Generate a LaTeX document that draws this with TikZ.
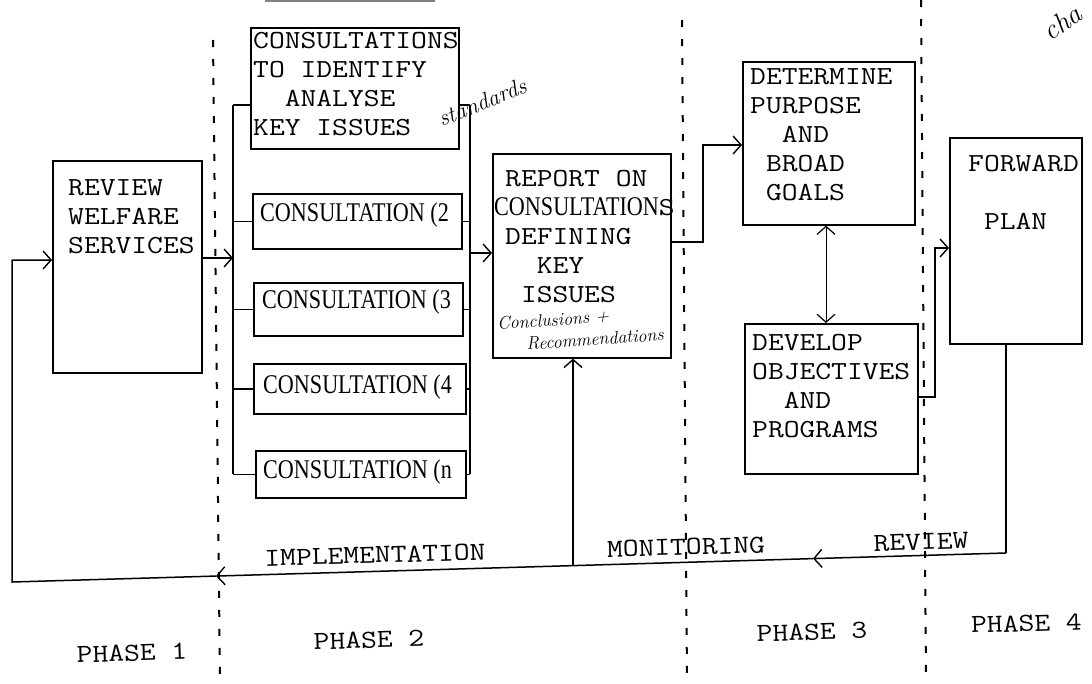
\documentclass[tikz,border=0pt]{standalone}
\usepackage{fontspec}
\usetikzlibrary{arrows.meta}
\newfontfamily\tw{Latin Modern Mono}[FakeStretch=1.18]
\newfontfamily\cons{Liberation Serif}[FakeStretch=0.82]
\newcommand\twf{\tw\fontsize{26}{29}\selectfont}
\newcommand\consf{\cons\fontsize{27}{29}\selectfont}
\newcommand\handf{\rmfamily\itshape\fontsize{18}{20}\selectfont}
\begin{document}
\begin{tikzpicture}[x=1pt,y=-1pt,
  box/.style={draw,line width=1.6pt,anchor=north west,inner sep=0pt},
  txt/.style={anchor=north west,inner sep=0pt,align=left,font=\twf},
  ctxt/.style={anchor=west,inner sep=0pt,font=\consf},
  lbl/.style={inner sep=0pt,font=\twf,rotate=1.7},
  hand/.style={inner sep=0pt,font=\handf},
  conn/.style={line width=1.5pt},
  arr/.style={line width=1.5pt,-{Straight Barb[length=8pt,width=18pt,line width=1.4pt]}},
  darr/.style={line width=1pt,{Straight Barb[length=8pt,width=18pt,line width=1.2pt]}-{Straight Barb[length=8pt,width=18pt,line width=1.2pt]}},
  phase/.style={line width=2pt,dash pattern=on 7pt off 12pt}]
\useasboundingbox (0,0) rectangle (1092,683);
\fill[white] (0,0) rectangle (1092,683);

% phase dividers
\draw[phase] (213,40) -- (220,683);
\draw[phase] (682,20) -- (687,683);
\draw[phase] (921,0) -- (926,683);
\draw[gray,line width=2pt] (265,1) -- (435,1);

% boxes
\node[box,minimum width=149pt,minimum height=212pt] (review) at (52,160) {};
\node[box,minimum width=208pt,minimum height=121pt] (c1) at (250,27) {};
\node[box,minimum width=209pt,minimum height=55pt] (c2) at (252,193) {};
\node[box,minimum width=209pt,minimum height=53pt] (c3) at (253,282) {};
\node[box,minimum width=212pt,minimum height=50pt] (c4) at (253,363) {};
\node[box,minimum width=210pt,minimum height=47pt] (cn) at (255,450) {};
\node[box,minimum width=178pt,minimum height=204pt] (report) at (492,153) {};
\node[box,minimum width=172pt,minimum height=163pt] (determine) at (742,61) {};
\node[box,minimum width=173pt,minimum height=150pt] (develop) at (744,323) {};
\node[box,minimum width=132pt,minimum height=206pt] (forward) at (949,137) {};

% box texts
\node[txt] (treview) at (68,179) {REVIEW\\WELFARE\\SERVICES};
\node[txt] (tc1) at (253,32) {CONSULTATIONS\\TO IDENTIFY\\\phantom{XX}ANALYSE\\KEY ISSUES};
\node[ctxt] (tc2) at (260,215) {CONSULTATION (2};
\node[ctxt] (tc3) at (262,302) {CONSULTATION (3};
\node[ctxt] (tc4) at (263,387) {CONSULTATION (4};
\node[ctxt] (tcn) at (263,472) {CONSULTATION (n};
\node[txt] (trep) at (505,170) {REPORT ON\\{\consf\hspace*{-11pt}CONSULTATION}S\\DEFINING\\\phantom{XX}KEY\\\phantom{X}ISSUES};
\node[txt] (tdet) at (750,68) {DETERMINE\\PURPOSE\\\phantom{XX}AND\\\phantom{X}BROAD\\\phantom{X}GOALS};
\node[txt] (tdev) at (752,334) {DEVELOP\\OBJECTIVES\\\phantom{XX}AND\\PROGRAMS};
\node[txt] (tfwd) at (968,155) {FORWARD\\[29pt]\phantom{X}PLAN};

% handwritten notes
\node[hand,rotate=22,font=\rmfamily\itshape\fontsize{23}{25}\selectfont] (hstd) at (482,102) {standards};
\node[hand,rotate=4] (hconc) at (553,320) {Conclusions +};
\node[hand,rotate=4,font=\rmfamily\itshape\fontsize{18}{20}\selectfont] (hrec) at (595,339) {Recommendations};
\node[hand,rotate=35,font=\rmfamily\itshape\fontsize{28}{30}\selectfont] (hcha) at (1062,22) {cha};

% buses of phase 2
\coordinate (lbt) at (233,105);
\coordinate (lbb) at (233,473.5);
\coordinate (rbt) at (470,105);
\coordinate (rbb) at (470,473.5);
\draw[conn] (lbt) -- (lbb);
\draw[conn] (rbt) -- (rbb);
\draw[conn] (lbt) -- (lbt -| c1.west);
\draw[conn] (rbt) -- (rbt -| c1.east);
\draw[conn] (lbt |- c2.west) -- (c2.west);
\draw[conn] (lbt |- c3.west) -- (c3.west);
\draw[conn] (lbt |- c4.west) -- (c4.west);
\draw[conn] (lbt |- cn.west) -- (cn.west);
\draw[conn] (rbt |- c2.east) -- (c2.east);
\draw[conn] (rbt |- c3.east) -- (c3.east);
\draw[conn] (rbt |- c4.east) -- (c4.east);
\draw[conn] (rbt |- cn.east) -- (cn.east);

% flow connectors
\coordinate (lbin) at (233,258);
\draw[arr] (lbin -| review.east) -- (lbin);
\coordinate (rbout) at (470,253);
\draw[arr] (rbout) -- (rbout -| report.west);
\coordinate (rd1) at (703,242);
\coordinate (rd2) at (703,145);
\draw[arr] (rd1 -| report.east) -- (rd1) -- (rd2) -- (rd2 -| determine.west);
\coordinate (dd) at (826,0);
\draw[darr] (dd |- determine.south) -- (dd |- develop.north);
\coordinate (df1) at (935,397);
\coordinate (df2) at (935,248);
\draw[arr] (df1 -| develop.east) -- (df1) -- (df2) -- (df2 -| forward.west);

% feedback loop
\coordinate (fb) at (1006,553);
\coordinate (m2) at (813,558.6);
\coordinate (m1) at (216,576.05);
\coordinate (bl) at (12,582);
\coordinate (tl) at (12,260);
\coordinate (mon) at (573,565.6);
\draw[conn] (fb |- forward.south) -- (fb);
\draw[arr] (fb) -- (m2);
\draw[arr] (m2) -- (m1);
\draw[arr] (m1) -- (bl) -- (tl) -- (tl -| review.west);
\draw[arr] (mon) -- (mon |- report.south);

% loop labels
\node[lbl] (limpl) at (375,555) {IMPLEMENTATION};
\node[lbl] (lmon) at (686,547) {MONITORING};
\node[lbl] (lrev) at (921,542) {REVIEW};

% phase labels
\node[lbl] (lp1) at (132,653) {PHASE 1};
\node[lbl] (lp2) at (369,640) {PHASE 2};
\node[lbl] (lp3) at (812,632) {PHASE 3};
\node[lbl,anchor=west] (lp4) at (971,625) {PHASE 4};
\end{tikzpicture}
\end{document}
